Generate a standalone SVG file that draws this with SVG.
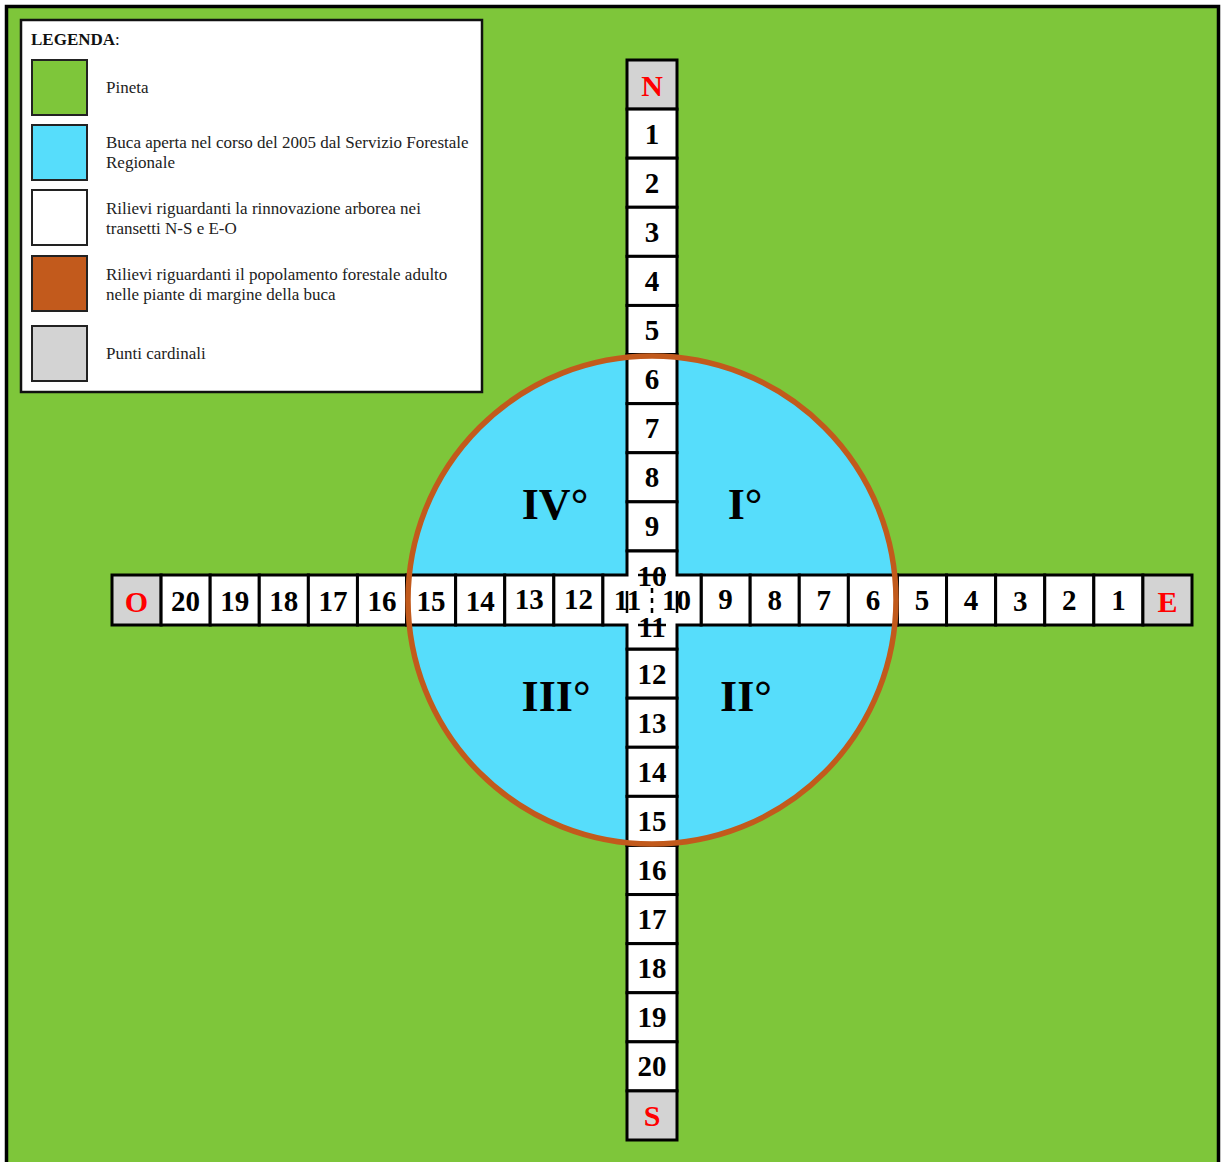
<svg xmlns="http://www.w3.org/2000/svg" width="1221" height="1162" viewBox="0 0 1221 1162">
<style>
.cell{fill:#ffffff;stroke:#000;stroke-width:3}
.card{fill:#d3d3d3;stroke:#000;stroke-width:3}
.num{font-family:"Liberation Serif",serif;font-weight:bold;font-size:29px;fill:#000;text-anchor:middle}
.cardt{font-family:"Liberation Serif",serif;font-weight:bold;font-size:30px;fill:#ff0000;text-anchor:middle}
.quad{font-family:"Liberation Serif",serif;font-weight:bold;font-size:44px;fill:#000;text-anchor:middle}
.leg{font-family:"Liberation Serif",serif;font-size:17px;fill:#222}
.sw{stroke:#222;stroke-width:2}
.strike{stroke:#000;stroke-width:2.5}
</style>
<rect x="0" y="0" width="1221" height="1162" fill="#ffffff"/>
<rect id="pineta" x="6.5" y="6.5" width="1212" height="1175" fill="#7ec63a" stroke="#000" stroke-width="3.5"/>
<g id="buca">
<circle cx="652" cy="600" r="244" fill="#56ddfb"/>
</g>
<g id="transetto-ns">
<rect class="card" x="627" y="60" width="50" height="49.09"/>
<rect class="cell" x="627" y="109.09" width="50" height="49.09"/>
<rect class="cell" x="627" y="158.18" width="50" height="49.09"/>
<rect class="cell" x="627" y="207.27" width="50" height="49.09"/>
<rect class="cell" x="627" y="256.36" width="50" height="49.09"/>
<rect class="cell" x="627" y="305.45" width="50" height="49.09"/>
<rect class="cell" x="627" y="354.55" width="50" height="49.09"/>
<rect class="cell" x="627" y="403.64" width="50" height="49.09"/>
<rect class="cell" x="627" y="452.73" width="50" height="49.09"/>
<rect class="cell" x="627" y="501.82" width="50" height="49.09"/>
<rect class="cell" x="627" y="649.09" width="50" height="49.09"/>
<rect class="cell" x="627" y="698.18" width="50" height="49.09"/>
<rect class="cell" x="627" y="747.27" width="50" height="49.09"/>
<rect class="cell" x="627" y="796.36" width="50" height="49.09"/>
<rect class="cell" x="627" y="845.45" width="50" height="49.09"/>
<rect class="cell" x="627" y="894.55" width="50" height="49.09"/>
<rect class="cell" x="627" y="943.64" width="50" height="49.09"/>
<rect class="cell" x="627" y="992.73" width="50" height="49.09"/>
<rect class="cell" x="627" y="1041.82" width="50" height="49.09"/>
<rect class="card" x="627" y="1090.91" width="50" height="49.09"/>
</g>
<g id="transetto-eo">
<rect class="card" x="112" y="575" width="49.09" height="50"/>
<rect class="cell" x="161.09" y="575" width="49.09" height="50"/>
<rect class="cell" x="210.18" y="575" width="49.09" height="50"/>
<rect class="cell" x="259.27" y="575" width="49.09" height="50"/>
<rect class="cell" x="308.36" y="575" width="49.09" height="50"/>
<rect class="cell" x="357.45" y="575" width="49.09" height="50"/>
<rect class="cell" x="406.55" y="575" width="49.09" height="50"/>
<rect class="cell" x="455.64" y="575" width="49.09" height="50"/>
<rect class="cell" x="504.73" y="575" width="49.09" height="50"/>
<rect class="cell" x="553.82" y="575" width="49.09" height="50"/>
<rect class="cell" x="701.09" y="575" width="49.09" height="50"/>
<rect class="cell" x="750.18" y="575" width="49.09" height="50"/>
<rect class="cell" x="799.27" y="575" width="49.09" height="50"/>
<rect class="cell" x="848.36" y="575" width="49.09" height="50"/>
<rect class="cell" x="897.45" y="575" width="49.09" height="50"/>
<rect class="cell" x="946.55" y="575" width="49.09" height="50"/>
<rect class="cell" x="995.64" y="575" width="49.09" height="50"/>
<rect class="cell" x="1044.73" y="575" width="49.09" height="50"/>
<rect class="cell" x="1093.82" y="575" width="49.09" height="50"/>
<rect class="card" x="1142.91" y="575" width="49.09" height="50"/>
</g>
<g id="incrocio">
<polygon class="cell" points="627,550.9 677,550.9 677,575 701.1,575 701.1,625 677,625 677,649.1 627,649.1 627,625 602.9,625 602.9,575 627,575"/>
<line x1="652" y1="588" x2="652" y2="618" stroke="#000" stroke-width="2.5" stroke-dasharray="5,5"/>
</g>
<g id="etichette-ns">
<text class="cardt" x="652" y="96">N</text>
<text class="num" x="652" y="143.6">1</text>
<text class="num" x="652" y="192.7">2</text>
<text class="num" x="652" y="241.8">3</text>
<text class="num" x="652" y="290.9">4</text>
<text class="num" x="652" y="340">5</text>
<text class="num" x="652" y="389.1">6</text>
<text class="num" x="652" y="438.2">7</text>
<text class="num" x="652" y="487.3">8</text>
<text class="num" x="652" y="536.4">9</text>
<text class="num" x="652" y="586">10</text>
<text class="num" x="652" y="637">11</text>
<text class="num" x="652" y="683.6">12</text>
<text class="num" x="652" y="732.7">13</text>
<text class="num" x="652" y="781.8">14</text>
<text class="num" x="652" y="830.9">15</text>
<text class="num" x="652" y="880">16</text>
<text class="num" x="652" y="929.1">17</text>
<text class="num" x="652" y="978.2">18</text>
<text class="num" x="652" y="1027.3">19</text>
<text class="num" x="652" y="1076.4">20</text>
<text class="cardt" x="652" y="1126">S</text>
</g>
<g id="etichette-eo">
<text class="cardt" x="136.5" y="612">O</text>
<text class="num" x="185.6" y="611">20</text>
<text class="num" x="234.7" y="611">19</text>
<text class="num" x="283.8" y="611">18</text>
<text class="num" x="332.9" y="611">17</text>
<text class="num" x="382" y="611">16</text>
<text class="num" x="431.1" y="611">15</text>
<text class="num" x="480.2" y="611">14</text>
<text class="num" x="529.3" y="609">13</text>
<text class="num" x="578.4" y="609">12</text>
<text class="num" x="627.5" y="610">11</text>
<text class="num" x="676.5" y="610">10</text>
<text class="num" x="725.6" y="609">9</text>
<text class="num" x="774.7" y="610">8</text>
<text class="num" x="823.8" y="610">7</text>
<text class="num" x="872.9" y="610">6</text>
<text class="num" x="922" y="610">5</text>
<text class="num" x="971.1" y="610">4</text>
<text class="num" x="1020.2" y="611">3</text>
<text class="num" x="1069.3" y="610">2</text>
<text class="num" x="1118.4" y="610">1</text>
<text class="cardt" x="1167.5" y="612">E</text>
</g>
<g id="tratti-incrocio">
<line class="strike" x1="638" y1="575" x2="666" y2="575"/>
<line class="strike" x1="638" y1="625" x2="666" y2="625"/>
<line class="strike" x1="627" y1="591" x2="627" y2="613"/>
<line class="strike" x1="677" y1="591" x2="677" y2="613"/>
</g>
<g id="margine">
<circle cx="652" cy="600" r="244" fill="none" stroke="#c25a1c" stroke-width="5.5"/>
</g>
<g id="quadranti">
<text class="quad" x="555" y="519">IV°</text>
<text class="quad" x="745" y="519">I°</text>
<text class="quad" x="556" y="711">III°</text>
<text class="quad" x="746" y="711">II°</text>
</g>
<g id="legenda">
<rect x="21" y="20" width="461" height="372" fill="#ffffff" stroke="#111" stroke-width="2.5"/>
<text x="31" y="45" font-family="Liberation Serif, serif" font-size="17" fill="#111"><tspan font-weight="bold">LEGENDA</tspan>:</text>
<rect class="sw" x="32" y="60" width="55" height="55" fill="#7ec63a"/>
<rect class="sw" x="32" y="125" width="55" height="55" fill="#56ddfb"/>
<rect class="sw" x="32" y="190" width="55" height="55" fill="#ffffff"/>
<rect class="sw" x="32" y="256" width="55" height="55" fill="#c25a1c"/>
<rect class="sw" x="32" y="326" width="55" height="55" fill="#d3d3d3"/>
<text class="leg" x="106" y="93">Pineta</text>
<text class="leg" x="106" y="148">Buca aperta nel corso del 2005 dal Servizio Forestale</text>
<text class="leg" x="106" y="168">Regionale</text>
<text class="leg" x="106" y="214">Rilievi riguardanti la rinnovazione arborea nei</text>
<text class="leg" x="106" y="234">transetti N-S e E-O</text>
<text class="leg" x="106" y="280">Rilievi riguardanti il popolamento forestale adulto</text>
<text class="leg" x="106" y="300">nelle piante di margine della buca</text>
<text class="leg" x="106" y="359">Punti cardinali</text>
</g>
</svg>
